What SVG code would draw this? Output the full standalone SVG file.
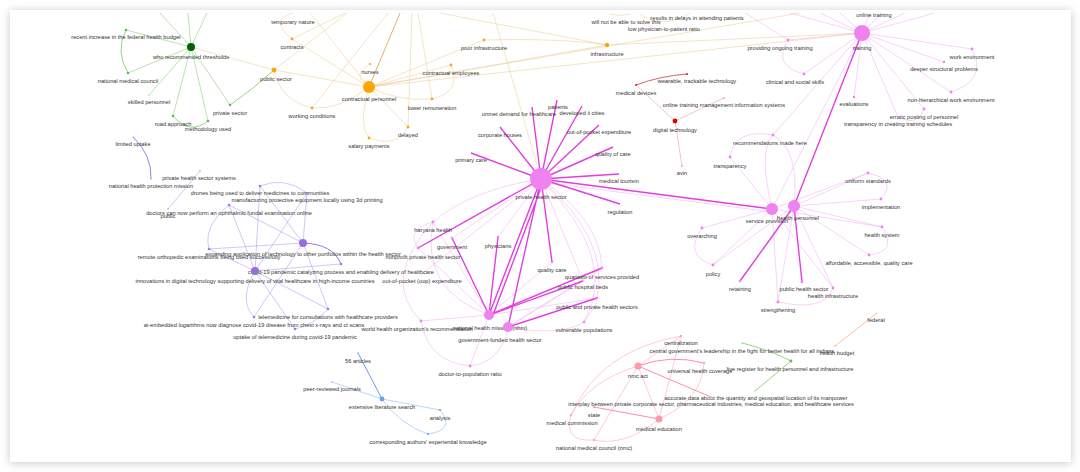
<svg xmlns="http://www.w3.org/2000/svg" width="1080" height="472" viewBox="0 0 1080 472">
<defs>
<filter id="sh" x="-5%" y="-5%" width="110%" height="110%"><feDropShadow dx="0" dy="1" stdDeviation="4" flood-color="#000" flood-opacity="0.22"/></filter>
<clipPath id="cp"><rect x="10" y="13" width="1061" height="449"/></clipPath>
<style>
text{font-family:"Liberation Sans",Arial,sans-serif;font-size:5.7px;fill:#333;text-anchor:middle}
path{fill:none}
.eg path{stroke:#8fd07a;stroke-width:.6}
.eo path{stroke:#e8c27a;stroke-width:.55;opacity:.8}
.em path{stroke:#f2a6f2;stroke-width:.5}
.emt path{stroke:#e23ee2;stroke-width:1.4}
.ep path{stroke:#a58cf0;stroke-width:.5}
.eb path{stroke:#7aa8f0;stroke-width:.5}
.ek path{stroke:#ffa0b4;stroke-width:.55}
.er path{stroke:#e09090;stroke-width:.5}
.g{fill:#5cb85c}.o{fill:#f5a623}.m{fill:#ee82ee}.p{fill:#9b7ae8}.b{fill:#6f9fec}.k{fill:#ffa8b8}.r{fill:#d42020}
</style>
</defs>
<rect width="1080" height="472" fill="#fff"/>
<rect x="10" y="10" width="1061" height="452" fill="#fff" filter="url(#sh)"/>
<g clip-path="url(#cp)">
<g id="connectors">
<g class="eg">
<path d="M191,47L160,13M191,47L188,13M191,47L207,13M191,47L126,30M191,47L128,73M191,47L149,95M191,47L173,116M191,47L208,121M191,47L230,105"/>
<path d="M126,30Q115,51 128,73M173,116Q189.5,135.5 208,121M230,105Q252,90 274,70" style="stroke:#6cbf50;stroke-width:.7"/>
</g>
<g class="eo">
<path d="M191,47L274,70M369,87L274,70M369,87L292,39M292,39Q268,20 293,13M369,87Q340,110 312,108M274,70Q280,100 312,108M312,108L388,13M369,87L310,13M370,64Q352,76 366,84M369,87Q358,125 369,138M369,138Q398,148 408,127M408,127L412,13M369,87L408,127M369,87Q400,102 432,99M432,99Q462,92 451,65M369,87L451,65M432,99L418,13M369,87L484,40M484,40Q560,38 607,45M369,87L607,45M369,87L800,13M607,45L862,33M440,13L607,45M493,13L541,179M274,70L347,13M292,39L345,13M640,14Q662,30 690,13M610,14Q620,17 630,14M369,87L862,33"/>
<path d="M369,87L400,13" style="stroke:#d8a040;stroke-width:1"/>
</g>
<g class="er">
<path d="M636,85Q660,76 687,74" style="stroke:#c04040;stroke-width:.8"/>
<path d="M675,121L636,85M675,121L724,98M675,121L682,166"/>
</g>
<g class="em">
<path d="M862,33L788,40M788,40Q772,66 804,74M862,33L804,74M862,33L854,97M862,33L972,49M972,49Q988,80 951,92M862,33L951,92M862,33L944,62M862,33L924,109M862,33L898,117M924,109Q918,127 898,117M862,33L772,209M862,33L773,135M862,33L840,13M862,33L870,13M862,33L882,13M862,33L905,13M862,33L935,13M862,33L820,13M862,33L790,13M788,40L745,13"/>
<path d="M541,182L772,212M772,209Q758,150 773,135M794,206Q800,150 773,135M772,209Q742,172 730,157M730,157Q735,128 773,135M772,209L702,228M702,228Q683,255 713,265M772,209L713,265M794,206L713,265M794,206L778,302M772,209L778,302M794,206L833,288M778,302Q825,312 833,288M794,206L868,173M868,173Q898,180 881,199M794,206L881,199M794,206L882,227M882,227Q898,252 869,255M794,206L869,255M772,209L868,173M772,209L882,227M772,209L833,288"/>
<path d="M541,179Q470,190 433,222M541,179L452,238M541,179L498,237M541,179Q600,220 602,268M541,179Q610,240 597,298M541,179Q620,260 584,322M541,179L583,281M433,222Q405,230 418,248M433,222L489,315M433,222Q420,290 489,315M418,248L489,315M489,315L552,262M489,315L597,298M489,315L421,321M489,315L470,366M508,327Q560,337 584,322M508,327Q502,362 470,366M421,321Q428,362 470,366M508,327L583,281M508,327L602,268M421,321Q380,280 433,222M541,179L422,274M584,322Q600,300 597,298"/>
</g>
<g class="emt">
<path d="M541,179L471,153M541,179L613,147M541,179L599,125M541,179L582,106M541,179L557,100M541,179L532,107M541,179L500,127M541,179L619,174M541,179L620,204M541,179L418,248M541,179L552,262M541,179L489,315M544,180L493,315M541,179L508,327M541,179L772,209M862,33L794,206M489,315L452,238M489,315L498,237M489,315L602,268M489,315L583,281M508,327L597,298M794,206L740,281M794,206L802,282"/>
</g>
<g class="ep">
<path d="M133,137Q152,155 151,179" style="stroke:#9370db;stroke-width:.9"/>
<path d="M200,171L168,209M303,243L260,186M303,243L307,193M303,243L229,205M303,243L328,309M303,243L254,317M303,243L209,249M255,271L260,186M255,271L229,205M255,271L209,249M255,271L328,309M255,271L295,329M255,271Q238,300 254,317M255,271L307,193M260,186Q285,176 307,193M229,205Q203,226 209,249M328,309Q312,326 295,329M255,271L341,264"/>
<path d="M303,243Q333,244 341,264" style="stroke:#8a6ae0;stroke-width:.9"/>
</g>
<g class="eb">
<path d="M382,399L358,353" style="stroke:#5b8fe8;stroke-width:.9"/>
<path d="M382,399L332,382M382,399L440,410M382,399Q402,426 428,434M440,410Q456,430 428,434"/>
</g>
<g class="ek">
<path d="M638,366L681,336M638,366L659,419M638,366Q590,380 571,415M638,366L594,440M659,419L681,336M659,419Q625,447 594,440M571,415Q563,442 594,440M571,415Q600,350 681,336M659,419Q702,400 704,363"/>
<path d="M638,366Q670,354 704,363M638,366L711,397M594,407L659,419" style="stroke:#ff7f98;stroke-width:.9"/>
</g>
<path d="M742,343Q770,350 791,361L755,391" style="stroke:#6cc040;stroke-width:.7"/>
<path d="M877,313L835,346" style="stroke:#ffa07a;stroke-width:.7"/>
</g>

<g id="n-who"><circle cx="191" cy="47" r="4" fill="#006400"/><text x="191" y="59">who recommended thresholds</text></g>
<g id="n-recent"><circle cx="126" cy="30" r="1.3" class="g"/><text x="126" y="39">recent increase in the federal health budget</text></g>
<g id="n-nmcg"><circle cx="128" cy="73" r="1.3" class="g"/><text x="128" y="83">national medical council</text></g>
<g id="n-skilled"><circle cx="149" cy="95" r="0.8" fill="#a5d890"/><text x="149" y="104">skilled personnel</text></g>
<g id="n-road"><circle cx="173" cy="116" r="1.3" class="g"/><text x="173" y="126">road approach</text></g>
<g id="n-method"><circle cx="208" cy="121" r="1.3" class="g"/><text x="208" y="131">methodology used</text></g>
<g id="n-private"><circle cx="230" cy="105" r="1.3" class="g"/><text x="230" y="115">private sector</text></g>

<g id="n-public"><circle cx="274" cy="70" r="2.4" fill="#ffa500"/><text x="276" y="81">public sector</text></g>
<g id="n-contractual"><circle cx="369" cy="87" r="6" fill="#ffa500"/><text x="369" y="101">contractual personnel</text></g>
<g id="n-nurses"><circle cx="370" cy="64" r="1.1" class="o"/><text x="370" y="74">nurses</text></g>
<g id="n-temp"><text x="293" y="24">temporary nature</text></g>
<g id="n-contracts"><circle cx="292" cy="39" r="1.4" class="o"/><text x="292" y="49">contracts</text></g>
<g id="n-working"><circle cx="312" cy="108" r="1.4" class="o"/><text x="312" y="118">working conditions</text></g>
<g id="n-salary"><circle cx="369" cy="138" r="1.4" class="o"/><text x="369" y="148">salary payments</text></g>
<g id="n-delayed"><circle cx="408" cy="127" r="1.4" class="o"/><text x="408" y="137">delayed</text></g>
<g id="n-lower"><circle cx="432" cy="99" r="1.4" class="o"/><text x="432" y="110">lower remuneration</text></g>
<g id="n-cemp"><circle cx="451" cy="65" r="1.4" class="o"/><text x="451" y="75">contractual employees</text></g>
<g id="n-poor"><circle cx="484" cy="40" r="1.4" class="o"/><text x="484" y="50">poor infrastructure</text></g>
<g id="n-infra"><circle cx="607" cy="45" r="2.2" fill="#ffa500"/><text x="607" y="56">infrastructure</text></g>
<g id="n-solve"><text x="626" y="24">will not be able to solve this</text></g>
<g id="n-results"><text x="697" y="20">results in delays in attending patients</text></g>
<g id="n-low"><text x="664" y="31">low physician-to-patient ratio</text></g>

<g id="n-digital"><circle cx="675" cy="121" r="2.4" fill="#e00000"/><text x="675" y="132">digital technology</text></g>
<g id="n-devices"><circle cx="636" cy="85" r="1" class="r"/><text x="636" y="95">medical devices</text></g>
<g id="n-wearable"><circle cx="687" cy="74" r="1" class="r"/><text x="697" y="83">wearable, trackable technology</text></g>
<g id="n-online"><circle cx="724" cy="98" r="0.8" fill="#e07070"/><text x="724" y="107">online training management information systems</text></g>
<g id="n-avin"><circle cx="682" cy="166" r="0.7" fill="#e07070"/><text x="682" y="175">avin</text></g>

<g id="n-training"><circle cx="862" cy="33" r="8" class="m"/><text x="862" y="50">training</text></g>
<g id="n-onlinetr"><text x="874" y="17">online training</text></g>
<g id="n-providing"><circle cx="788" cy="40" r="1.4" class="m"/><text x="780" y="50">providing ongoing training</text></g>
<g id="n-clinical"><circle cx="804" cy="74" r="1.4" class="m"/><text x="795" y="84">clinical and social skills</text></g>
<g id="n-eval"><circle cx="854" cy="97" r="1.2" class="m"/><text x="854" y="106">evaluations</text></g>
<g id="n-workenv"><circle cx="972" cy="49" r="1.4" class="m"/><text x="972" y="59">work environment</text></g>
<g id="n-deeper"><circle cx="944" cy="62" r="1.2" class="m"/><text x="944" y="71">deeper structural problems</text></g>
<g id="n-nonhier"><circle cx="951" cy="92" r="1.4" class="m"/><text x="951" y="102">non-hierarchical work environment</text></g>
<g id="n-erratic"><circle cx="924" cy="109" r="1.4" class="m"/><text x="924" y="119">erratic posting of personnel</text></g>
<g id="n-transched"><circle cx="898" cy="117" r="1.1" class="m"/><text x="898" y="126">transparency in creating training schedules</text></g>

<g id="n-recom"><circle cx="773" cy="135" r="1.4" class="m"/><text x="770" y="145">recommendations made here</text></g>
<g id="n-transp"><circle cx="730" cy="157" r="1.4" class="m"/><text x="730" y="168">transparency</text></g>
<g id="n-service"><circle cx="772" cy="209" r="6" class="m"/><text x="767" y="223">service provision</text></g>
<g id="n-hp"><circle cx="794" cy="206" r="6" class="m"/><text x="798" y="220">health personnel</text></g>
<g id="n-over"><circle cx="702" cy="228" r="1.4" class="m"/><text x="702" y="238">overarching</text></g>
<g id="n-policy"><circle cx="713" cy="265" r="1.4" class="m"/><text x="713" y="276">policy</text></g>
<g id="n-retain"><circle cx="740" cy="281" r="1.3" class="m"/><text x="740" y="291">retaining</text></g>
<g id="n-strength"><circle cx="778" cy="302" r="1.4" class="m"/><text x="778" y="312">strengthening</text></g>
<g id="n-phs"><circle cx="802" cy="282" r="1.3" class="m"/><text x="804" y="291">public health sector</text></g>
<g id="n-hinfra"><circle cx="833" cy="288" r="1.4" class="m"/><text x="833" y="298">health infrastructure</text></g>
<g id="n-uniform"><circle cx="868" cy="173" r="1.4" class="m"/><text x="868" y="183">uniform standards</text></g>
<g id="n-impl"><circle cx="881" cy="199" r="1.4" class="m"/><text x="881" y="209">implementation</text></g>
<g id="n-hsys"><circle cx="882" cy="227" r="1.4" class="m"/><text x="882" y="237">health system</text></g>
<g id="n-afford"><circle cx="869" cy="255" r="1.4" class="m"/><text x="869" y="265">affordable, accessible, quality care</text></g>

<g id="n-phsector"><circle cx="541" cy="179" r="11" class="m"/><text x="541" y="199">private health sector</text></g>
<g id="n-primary"><text x="471" y="162">primary care</text></g>
<g id="n-qoc"><text x="613" y="156">quality of care</text></g>
<g id="n-oop"><text x="599" y="134">out-of-pocket expenditure</text></g>
<g id="n-cities"><text x="582" y="115">developed ii cities</text></g>
<g id="n-patients"><text x="558" y="109">patients</text></g>
<g id="n-unmet"><text x="519" y="116">unmet demand for healthcare</text></g>
<g id="n-corp"><text x="500" y="137">corporate houses</text></g>
<g id="n-tourism"><text x="619" y="183">medical tourism</text></g>
<g id="n-reg"><text x="620" y="214">regulation</text></g>
<g id="n-haryana"><circle cx="433" cy="222" r="1.4" class="m"/><text x="433" y="232">haryana health</text></g>
<g id="n-nonprofit"><circle cx="418" cy="248" r="1.4" class="m"/><text x="423" y="259">nonprofit private health sector</text></g>
<g id="n-govt"><circle cx="452" cy="238" r="1.3" class="m"/><text x="452" y="249">government</text></g>
<g id="n-phys"><circle cx="498" cy="237" r="1.3" class="m"/><text x="498" y="248">physicians</text></g>
<g id="n-oopexp"><circle cx="422" cy="274" r="0.6" class="m"/><text x="422" y="283">out-of-pocket (oop) expenditure</text></g>
<g id="n-qcare"><circle cx="552" cy="262" r="1.3" class="m"/><text x="552" y="272">quality care</text></g>
<g id="n-quantum"><circle cx="602" cy="268" r="1.3" class="m"/><text x="602" y="279">quantum of services provided</text></g>
<g id="n-beds"><circle cx="583" cy="281" r="0.8" class="m"/><text x="583" y="289">public hospital beds</text></g>
<g id="n-pubpriv"><circle cx="597" cy="298" r="1.3" class="m"/><text x="597" y="309">public and private health sectors</text></g>
<g id="n-vuln"><circle cx="584" cy="322" r="1.3" class="m"/><text x="584" y="332">vulnerable populations</text></g>
<g id="n-nhm"><circle cx="489" cy="315" r="5" class="m"/><text x="490" y="330">national health mission (nhm)</text></g>
<g id="n-govfund"><circle cx="508" cy="327" r="5" class="m"/><text x="500" y="342">government-funded health sector</text></g>
<g id="n-who2"><circle cx="421" cy="321" r="1.4" class="m"/><text x="417" y="331">world health organization's recommendation</text></g>
<g id="n-doctor"><circle cx="470" cy="366" r="1.4" class="m"/><text x="470" y="376">doctor-to-population ratio</text></g>

<g id="n-limited"><circle cx="133" cy="137" r="0.6" class="p"/><text x="133" y="146">limited uptake</text></g>
<g id="n-nhpm"><circle cx="151" cy="179" r="0.6" class="p"/><text x="151" y="188">national health protection mission</text></g>
<g id="n-phss"><circle cx="200" cy="171" r="0.7" class="p"/><text x="199" y="180">private health sector systems</text></g>
<g id="n-publ"><circle cx="168" cy="209" r="0.7" class="p"/><text x="168" y="218">public</text></g>
<g id="n-doctors"><circle cx="229" cy="205" r="1.3" class="p"/><text x="229" y="215">doctors can now perform an ophthalmic fundal examination online</text></g>
<g id="n-drones"><circle cx="260" cy="186" r="1.3" class="p"/><text x="260" y="195">drones being used to deliver medicines to communities</text></g>
<g id="n-manuf"><circle cx="307" cy="193" r="1.1" class="p"/><text x="307" y="202">manufacturing protective equipment locally using 3d printing</text></g>
<g id="n-expand"><circle cx="303" cy="243" r="4" fill="#9370db"/><text x="303" y="256">expanding application of technology to other portfolios within the health sector</text></g>
<g id="n-remote"><circle cx="209" cy="249" r="1.3" class="p"/><text x="209" y="259">remote orthopedic examinations being used successfully</text></g>
<g id="n-covid"><circle cx="341" cy="264" r="1.3" class="p"/><text x="341" y="274">covid-19 pandemic catalyzing process and enabling delivery of healthcare</text></g>
<g id="n-innov"><circle cx="255" cy="271" r="4" fill="#9370db"/><text x="255" y="283">innovations in digital technology supporting delivery of vital healthcare in high-income countries</text></g>
<g id="n-tele"><circle cx="328" cy="309" r="1.3" class="p"/><text x="328" y="319">telemedicine for consultations with healthcare providers</text></g>
<g id="n-ai"><circle cx="254" cy="317" r="1.3" class="p"/><text x="254" y="327">ai-embedded logarithms now diagnose covid-19 disease from chest x-rays and ct scans</text></g>
<g id="n-uptake"><circle cx="295" cy="329" r="1.3" class="p"/><text x="295" y="339">uptake of telemedicine during covid-19 pandemic</text></g>

<g id="n-els"><circle cx="382" cy="399" r="2.4" class="b"/><text x="382" y="409">extensive literature search</text></g>
<g id="n-56"><circle cx="358" cy="353" r="0.7" class="b"/><text x="358" y="363">56 articles</text></g>
<g id="n-peer"><circle cx="332" cy="382" r="0.7" class="b"/><text x="332" y="391">peer-reviewed journals</text></g>
<g id="n-analysis"><circle cx="440" cy="410" r="1.1" class="b"/><text x="440" y="420">analysis</text></g>
<g id="n-corr"><circle cx="428" cy="434" r="1.1" class="b"/><text x="428" y="444">corresponding authors' experiential knowledge</text></g>

<g id="n-nmcact"><circle cx="638" cy="366" r="3.5" fill="#ff9aae"/><text x="638" y="378">nmc act</text></g>
<g id="n-meded"><circle cx="659" cy="419" r="3.5" fill="#ff9aae"/><text x="659" y="431">medical education</text></g>
<g id="n-central"><circle cx="681" cy="336" r="1.2" class="k"/><text x="681" y="345">centralization</text></g>
<g id="n-cgl"><circle cx="742" cy="343" r="0.5" fill="#6cc040"/><text x="742" y="353">central government's leadership in the fight for better health for all indians</text></g>
<g id="n-uhc"><circle cx="704" cy="363" r="1.2" class="k"/><text x="700" y="373">universal health coverage</text></g>
<g id="n-live"><circle cx="791" cy="361" r="1.4" fill="#5cc030"/><text x="790" y="371">live register for health personnel and infrastructure</text></g>
<g id="n-accurate"><circle cx="755" cy="391" r="0.5" fill="#6cc040"/><text x="756" y="400">accurate data about the quantity and geospatial location of its manpower</text></g>
<g id="n-interplay"><circle cx="711" cy="397" r="0.8" class="k"/><text x="711" y="406">interplay between private corporate sector, pharmaceutical industries, medical education, and healthcare services</text></g>
<g id="n-state"><circle cx="594" cy="407" r="1.2" class="k"/><text x="594" y="417">state</text></g>
<g id="n-medcom"><circle cx="571" cy="415" r="1.2" class="k"/><text x="572" y="425">medical commission</text></g>
<g id="n-nmcnmc"><circle cx="594" cy="440" r="1.2" class="k"/><text x="594" y="450">national medical council (nmc)</text></g>
<g id="n-federal"><circle cx="877" cy="313" r="0.6" fill="#ffa07a"/><text x="876" y="322">federal</text></g>
<g id="n-hbudget"><circle cx="835" cy="346" r="0.8" fill="#ffa07a"/><text x="837" y="355">health budget</text></g>
</g>
</svg>
